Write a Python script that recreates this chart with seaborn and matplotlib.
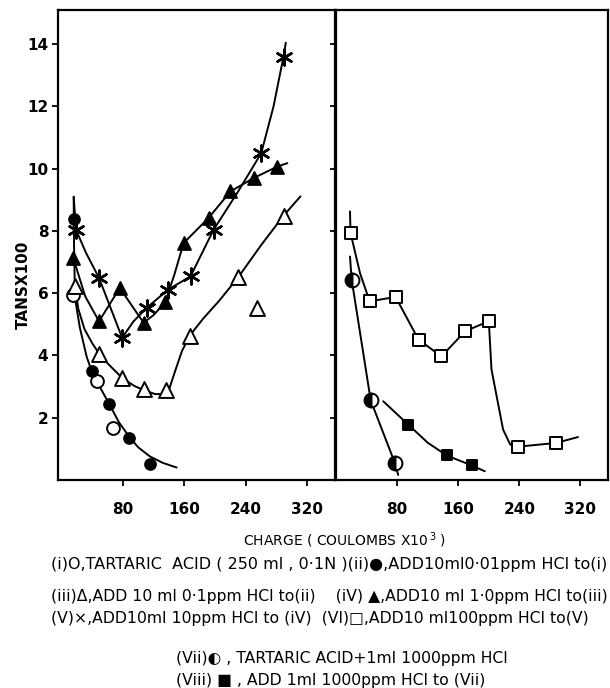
import matplotlib
matplotlib.use("Agg")
import matplotlib.pyplot as plt
from matplotlib import font_manager as fm
import seaborn as sns
import pandas as pd

# ---------------- data ----------------
# left panel
i_x = [15, 46, 67]
i_y = [5.95, 3.17, 1.66]
ii_x = [16, 39.5, 62.5, 88.5, 115]
ii_y = [8.39, 3.49, 2.43, 1.36, 0.51]
c12_x = [16, 16.5, 17.7, 24, 33, 39.5, 46, 62.5, 75, 88.5, 100, 115, 132, 150]
c12_y = [9.1, 7.5, 5.85, 4.9, 3.95, 3.5, 3.17, 2.43, 1.85, 1.38, 1.05, 0.76, 0.55, 0.40]

iii_x = [18, 49, 79, 108, 136, 167, 230, 254, 289]
iii_y = [6.22, 4.06, 3.28, 2.93, 2.88, 4.64, 6.51, 5.51, 8.49]
c3_x = [18, 22, 30, 40, 49, 60, 79, 95, 108, 122, 133, 140, 148, 157, 167, 185, 205, 230, 260, 289, 311]
c3_y = [6.22, 5.5, 4.85, 4.4, 4.06, 3.75, 3.28, 3.02, 2.88, 2.76, 2.76, 2.9, 3.5, 4.15, 4.64, 5.2, 5.75, 6.51, 7.55, 8.49, 9.11]

iv_x = [15.5, 49, 76, 107, 135, 159, 191.5, 220, 250, 281]
iv_y = [7.13, 5.1, 6.17, 5.05, 5.71, 7.61, 8.42, 9.27, 9.7, 10.07]
c4_x = [15.5, 31, 49, 76, 107, 120, 135, 147, 159, 191.5, 220, 250, 281, 294]
c4_y = [7.13, 5.9, 5.1, 6.17, 5.05, 5.3, 5.71, 6.6, 7.61, 8.42, 9.27, 9.7, 10.07, 10.18]

v_x = [19, 49, 79, 111, 139, 168, 198, 260, 289]
v_y = [8.04, 6.49, 4.57, 5.53, 6.12, 6.54, 8.04, 10.5, 13.6]
c5_x = [16, 19, 32, 49, 79, 94, 111, 139, 168, 198, 230, 260, 276, 289, 292]
c5_y = [9.1, 8.04, 7.3, 6.49, 4.57, 5.1, 5.53, 6.12, 6.54, 8.04, 9.27, 10.5, 12.0, 13.6, 14.05]

# right panel
vi_x = [19, 44, 78, 108, 138, 169, 200, 238, 288]
vi_y = [7.94, 5.74, 5.88, 4.51, 3.97, 4.78, 5.10, 1.07, 1.19]
c6_x = [18.3, 19, 31.4, 44, 78, 108, 138, 169, 200, 203.5, 218.7, 228, 238, 288, 316.7]
c6_y = [8.63, 7.94, 6.65, 5.74, 5.88, 4.51, 3.97, 4.78, 5.10, 3.55, 1.62, 1.14, 1.07, 1.19, 1.38]

vii_x = [20.5, 45.4, 77]
vii_y = [6.44, 2.56, 0.55]
c7_x = [18.3, 20.5, 33.6, 45.4, 77, 81.4]
c7_y = [7.18, 6.44, 4.4, 2.56, 0.55, 0.16]

viii_x = [94.5, 144.7, 177.4]
viii_y = [1.78, 0.79, 0.47]
c8_x = [61.8, 94.5, 120, 144.7, 177.4, 194.8]
c8_y = [2.53, 1.78, 1.2, 0.79, 0.47, 0.28]

x_ticks = [80, 160, 240, 320]
y_ticks = [2, 4, 6, 8, 10, 12, 14]
y_label = "TANSX100"
x_label = "CHARGE ( COULOMBS X10$^{\\,3}$ )"
legend_lines = [
    "(i)O,TARTARIC  ACID ( 250 ml , 0·1N )(ii)●,ADD10ml0·01ppm HCl to(i)",
    "(iii)Δ,ADD 10 ml 0·1ppm HCl to(ii)    (iV) ▲,ADD10 ml 1·0ppm HCl to(iii)",
    "(V)×,ADD10ml 10ppm HCl to (iV)  (Vl)□,ADD10 ml100ppm HCl to(V)",
    "(Vii)◐ , TARTARIC ACID+1ml 1000ppm HCl",
    "(Viii) ■ , ADD 1ml 1000ppm HCl to (Vii)",
]

# ---------------- style ----------------
sns.set_style("ticks")


def pick_font(names):
    for n in names:
        try:
            fm.findfont(fm.FontProperties(family=n), fallback_to_default=False)
            return n
        except Exception:
            pass
    return "DejaVu Sans"


FONT = pick_font(["DejaVu Sans Condensed", "Liberation Sans Narrow", "DejaVu Sans"])
plt.rcParams["font.family"] = [FONT, "DejaVu Sans"]
plt.rcParams["mathtext.fontset"] = "dejavusans"
plt.rcParams["text.color"] = "black"
plt.rcParams["axes.labelcolor"] = "black"
plt.rcParams["xtick.color"] = "black"
plt.rcParams["ytick.color"] = "black"

W, H = 610, 688
fig = plt.figure(figsize=(W / 100, H / 100), dpi=100)
fig.patch.set_facecolor("white")

axL = fig.add_axes([58 / W, 1 - 480 / H, (335 - 58) / W, (480 - 10) / H])
axR = fig.add_axes([336 / W, 1 - 480 / H, (608 - 336) / W, (480 - 10) / H])

LW = 1.4
MS = 80


def curve(ax, x, y):
    sns.lineplot(data=pd.DataFrame({"x": x, "y": y}), x="x", y="y", sort=False,
                 estimator=None, color="black", lw=LW, ax=ax, zorder=2)


def pts(ax, x, y, marker, face, size=MS, lw=1.4):
    sns.scatterplot(data=pd.DataFrame({"x": x, "y": y}), x="x", y="y", ax=ax,
                    marker=marker, s=size, facecolor=face, edgecolor="black",
                    linewidth=lw, zorder=3)


# left panel
curve(axL, c12_x, c12_y)
curve(axL, c3_x, c3_y)
curve(axL, c4_x, c4_y)
curve(axL, c5_x, c5_y)
pts(axL, i_x, i_y, "o", "white", 85)
pts(axL, ii_x, ii_y, "o", "black", 60)
pts(axL, iii_x, iii_y, "^", "white", 115)
pts(axL, iv_x, iv_y, "^", "black", 85)
sns.scatterplot(data=pd.DataFrame({"x": v_x, "y": v_y}), x="x", y="y", ax=axL,
                marker=(6, 2, 0), s=130, color="black", linewidth=1.8, zorder=3)

# right panel
curve(axR, c6_x, c6_y)
curve(axR, c7_x, c7_y)
curve(axR, c8_x, c8_y)
pts(axR, vi_x, vi_y, "s", "white", 85)
pts(axR, viii_x, viii_y, "s", "black", 55)
axR.plot(vii_x, vii_y, ls="none", marker="o", ms=10, fillstyle="left",
         markerfacecolor="black", markerfacecoloralt="white",
         markeredgecolor="black", markeredgewidth=1.4, zorder=3)

TICKFS = 11
for ax in (axL, axR):
    ax.set_ylim(0, 15.1)
    ax.set_xticks(x_ticks)
    ax.set_xticklabels([str(t) for t in x_ticks], fontsize=TICKFS,
                       fontweight="bold")
    ax.set_yticks(y_ticks)
    ax.set_xlabel("")
    ax.set_ylabel("")
    for s in ax.spines.values():
        s.set_visible(True)
        s.set_linewidth(1.6)
        s.set_color("black")
    ax.tick_params(direction="out", length=4, width=1.3, colors="black",
                   labelsize=TICKFS)
    ax.tick_params(axis="x", pad=12)
    ax.tick_params(axis="y", pad=3)

axL.set_xlim(-4.4, 356)
axR.set_xlim(0, 356)
axL.set_yticklabels([str(t) for t in y_ticks], fontsize=TICKFS, fontweight="bold")
axR.tick_params(axis="y", labelleft=False)

fig.text(23 / W, 1 - 285 / H, y_label, rotation=90, ha="center", va="center",
         fontsize=11, fontweight="bold")

# ---------------- bottom text ----------------
renderer = fig.canvas.get_renderer()


def width_px(t):
    return t.get_window_extent(renderer=renderer).width


fig.text(345 / W, 1 - 540 / H, x_label, ha="center", va="center", fontsize=10)

# one size for the block, taken from line 2
probe = fig.text(0, 0, legend_lines[1], fontsize=12)
LFS = 12 * 554 / width_px(probe)
probe.remove()
probe = fig.text(0, 0, legend_lines[0], fontsize=12)
LFS1 = 12 * 554 / width_px(probe)
probe.remove()

starts = [(51, 565), (51, 596), (51, 619), (176, 659), (176, 680)]
for k, (s, (x0, y0)) in enumerate(zip(legend_lines, starts)):
    fig.text(x0 / W, 1 - y0 / H, s, ha="left", va="center",
             fontsize=LFS1 if k == 0 else LFS)

fig.savefig("out.png", dpi=100, facecolor="white")
